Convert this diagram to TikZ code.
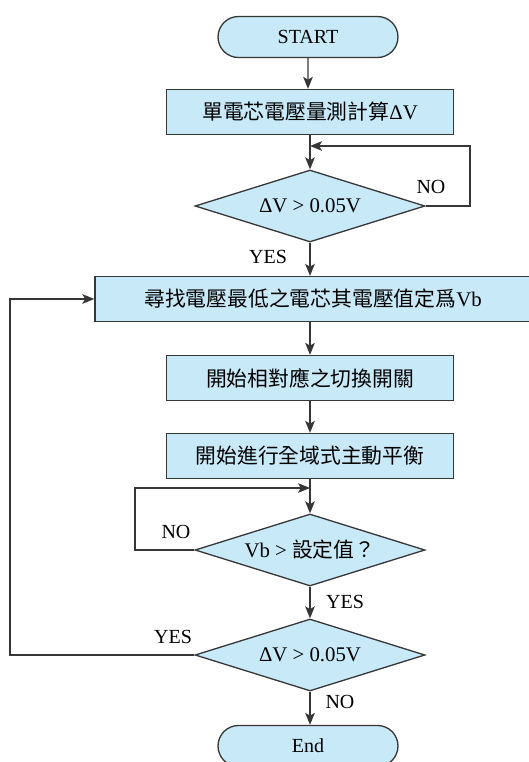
\documentclass[tikz,border=0pt]{standalone}
\usepackage{fontspec}
\setmainfont{Liberation Serif}
\newfontfamily\cjk{Noto Sans CJK TC}
\usepackage{tikz}
\usetikzlibrary{arrows.meta,shapes.geometric,shapes.misc}

\definecolor{boxfill}{HTML}{C8EAF8}
\definecolor{linegray}{HTML}{363636}

\begin{document}
\begin{tikzpicture}[x=0.5pt,y=-0.5pt,font=\fontsize{10}{12}\selectfont,
  arr/.style={draw=linegray,line width=0.65pt,-{Stealth[length=6pt,width=4.8pt,inset=1.4pt]}},
  term/.style={rounded rectangle,draw=linegray,line width=0.65pt,fill=boxfill,minimum width=90pt,minimum height=20.5pt,inner sep=0pt},
  proc/.style={rectangle,draw=linegray,line width=0.65pt,fill=boxfill,minimum width=143.5pt,minimum height=22.5pt,inner sep=0pt,font=\fontsize{10.4}{12}\selectfont},
  decide/.style={diamond,draw=linegray,line width=0.65pt,fill=boxfill,aspect=3.2,minimum width=115pt,minimum height=36pt,inner sep=0pt,font=\fontsize{10.4}{12}\selectfont}]
\useasboundingbox (0,0) rectangle (529,762);
% the boxes
\node[term] (start) at (308,37) {START};
\node[proc] (measure) at (310,112) {{\cjk 單電芯電壓量測計算}ΔV};
\node[decide] (check1) at (310,206) {ΔV > 0.05V};
\node[proc,minimum width=218pt] (findvb) at (313,299) {{\cjk 尋找電壓最低之電芯其電壓值定爲}Vb};
\node[proc] (switch) at (310,378) {\cjk 開始相對應之切換開關};
\node[proc] (balance) at (310,456) {\cjk 開始進行全域式主動平衡};
\node[decide] (check2) at (310,550) {Vb > {\cjk 設定值？}};
\node[decide] (check3) at (310,655) {ΔV > 0.05V};
\node[term] (stop) at (308,746) {End};
% loop points
\coordinate (join1) at (310,146);
\coordinate (right1) at (470,146);
\coordinate (join2) at (310,488);
\coordinate (left2) at (135,488);
\coordinate (left3) at (10,299);
% the arrows
\draw[arr] (start) -- (start|-measure.north);
\draw[arr] (measure) -- (check1);
\draw[arr] (check1.east) -| (right1) -- (join1);
\draw[arr] (check1) -- (check1|-findvb.north);
\draw[arr] (findvb.south-|switch) -- (switch);
\draw[arr] (switch) -- (balance);
\draw[arr] (balance) -- (check2);
\draw[arr] (check2.west) -| (left2) -- (join2);
\draw[arr] (check2) -- (check3);
\draw[arr] (check3.west) -| (left3) -- (findvb.west);
\draw[arr] (check3) -- (check3|-stop.north);
% the labels
\node (no1) at (431,187) {NO};
\node (yes1) at (268,257) {YES};
\node (no2) at (176,532) {NO};
\node (yes2) at (345,602) {YES};
\node (yes3) at (173,637) {YES};
\node (no3) at (340,702) {NO};
\end{tikzpicture}
\end{document}
